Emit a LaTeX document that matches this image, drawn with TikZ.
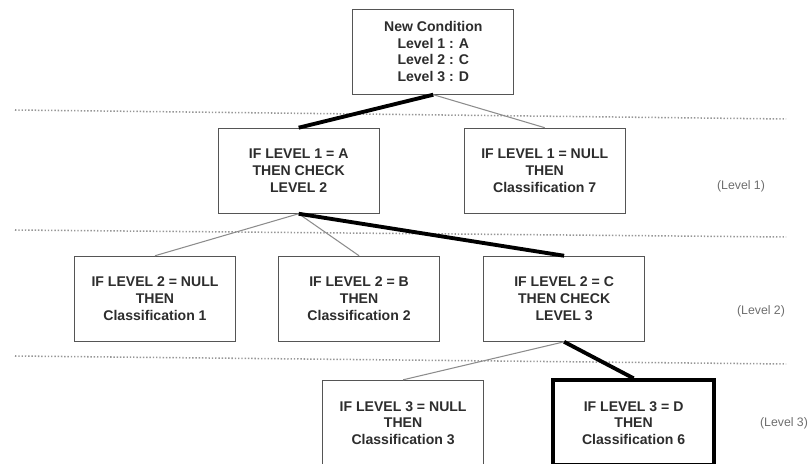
\documentclass[tikz,border=0pt]{standalone}
\usepackage{fontspec}
\setmainfont{Liberation Sans}
\definecolor{boxgray}{RGB}{85, 85, 85}
\definecolor{linkgray}{RGB}{140, 140, 140}
\definecolor{dotgray}{RGB}{150, 150, 150}
\definecolor{textgray}{RGB}{45, 45, 45}
\definecolor{notegray}{RGB}{110, 110, 110}
\usetikzlibrary{positioning}
\tikzset{
	cond/.style={rectangle, draw=boxgray, fill=white, line width=0.9pt, align=center, minimum width=4.83cm, minimum height=2.55cm, inner sep=0pt, text=textgray, font=\fontsize{12}{14.2}\selectfont\bfseries},
	chosen/.style={cond, draw=black, line width=3.4pt},
	link/.style={draw=linkgray, line width=0.9pt},
	hotlink/.style={draw=black, line width=3.3pt},
	levelrule/.style={draw=dotgray, line width=1.3pt, dash pattern=on 1.2pt off 1.6pt},
	levelnote/.style={text=notegray, font=\fontsize{10.5}{12}\selectfont},
}

\begin{document}
\begin{tikzpicture}
		\useasboundingbox (0,0) rectangle (24.27,-13.92);
		% level separators
		\draw[levelrule] (0.45,-3.30) -- (23.58,-3.57);
		\draw[levelrule] (0.45,-6.90) -- (23.58,-7.11);
		\draw[levelrule] (0.45,-10.68) -- (23.58,-10.92);
		\node[cond] (newcond) at (13.0,-1.55) {New Condition\\Level 1 : A\\Level 2 : C\\Level 3 : D};
		\node[cond, below=0.99cm of newcond, xshift=-4.04cm] (onea) {IF LEVEL 1 = A\\THEN CHECK\\LEVEL 2};
		\node[cond, right=2.52cm of onea] (onenull) {IF LEVEL 1 = NULL\\THEN\\Classification 7};
		\node[cond, below=1.26cm of onea, xshift=-4.31cm] (twonull) {IF LEVEL 2 = NULL\\THEN\\Classification 1};
		\node[cond, right=1.26cm of twonull] (twob) {IF LEVEL 2 = B\\THEN\\Classification 2};
		\node[cond, right=1.29cm of twob] (twoc) {IF LEVEL 2 = C\\THEN CHECK\\LEVEL 3};
		\node[cond, below=1.14cm of twoc, xshift=-4.83cm] (threenull) {IF LEVEL 3 = NULL\\THEN\\Classification 3};
		\node[chosen, right=2.01cm of threenull] (threed) {IF LEVEL 3 = D\\THEN\\Classification 6};
		\node[levelnote] (noteone) at (22.23,-5.58) {(Level 1)};
		\node[levelnote] (notetwo) at (22.83,-9.33) {(Level 2)};
		\node[levelnote] (notethree) at (23.52,-12.69) {(Level 3)};
		\draw[hotlink] (newcond.south) -- (onea.north);
		\draw[link] (newcond.south) -- (onenull.north);
		\draw[link] (onea.south) -- (twonull.north);
		\draw[link] (onea.south) -- (twob.north);
		\draw[hotlink] (onea.south) -- (twoc.north);
		\draw[link] (twoc.south) -- (threenull.north);
		\draw[hotlink] (twoc.south) -- (threed.north);
	\end{tikzpicture}
\end{document}
